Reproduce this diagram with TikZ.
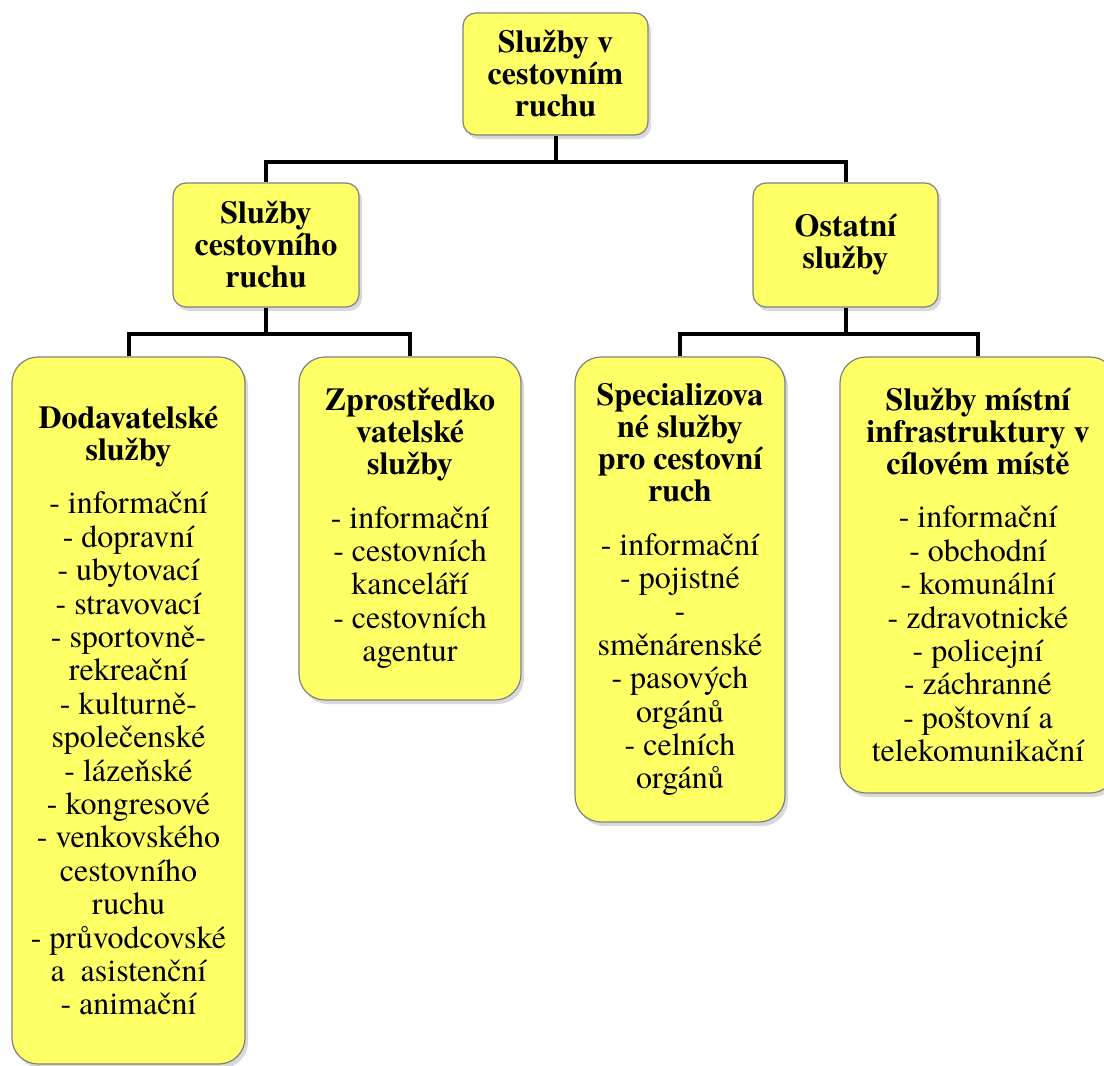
\documentclass[tikz,border=0pt]{standalone}
\usepackage{fontspec}
\setmainfont{texgyretermes}[Extension=.otf, UprightFont=*-regular, BoldFont=*-bold,
	ItalicFont=*-italic, BoldItalicFont=*-bolditalic]
\definecolor{boxyellow}{RGB}{255,255,102}
\definecolor{boxedge}{RGB}{128,128,128}
\usetikzlibrary{shadows}
\newcommand{\headf}{\fontsize{16}{16}\selectfont\bfseries}
\newcommand{\bodyf}{\fontsize{16}{16.7}\selectfont}
\newcommand{\heading}[1]{{\headf\begin{tabular}{@{}c@{}}#1\end{tabular}}}

\begin{document}
\begin{tikzpicture}[x=0.5pt, y=-0.5pt,
		box/.style={draw=boxedge, line width=0.6pt, fill=boxyellow,
			rounded corners=6.5pt, align=center, inner sep=0pt,
			drop shadow={shadow xshift=1.5pt, shadow yshift=-2pt, opacity=0.3},
			font=\headf},
		bigbox/.style={box, rounded corners=13pt, font=\bodyf},
		link/.style={line width=2pt, black}
	]
		\useasboundingbox (0,0) rectangle (1104,1066);

		\node[box, minimum width=92.5pt, minimum height=61pt] (root) at (555.5,74) {Služby v\\ cestovním\\ ruchu};
		\node[box, minimum width=93pt, minimum height=62pt] (tour) at (266,245) {Služby\\ cestovního\\ ruchu};
		\node[box, minimum width=92.5pt, minimum height=62pt] (other) at (845.5,245) {Ostatní\\ služby};

		\node[bigbox, minimum width=116.5pt, minimum height=353.5pt] (supp) at (128.5,710.5)
			{\heading{Dodavatelské\\ služby}\\[10pt] - informační\\ - dopravní\\ - ubytovací\\ - stravovací\\
			- sportovně-\\ rekreační\\ - kulturně-\\ společenské\\ - lázeňské\\ - kongresové\\
			- venkovského\\ cestovního\\ ruchu\\ - průvodcovské\\ a~~asistenční\\ - animační};
		\node[bigbox, minimum width=111pt, minimum height=171.5pt] (agent) at (410,528.5)
			{\heading{Zprostředko\\ vatelské\\ služby}\\[10pt] - informační\\ - cestovních\\ kanceláří\\
			- cestovních\\ agentur};
		\node[bigbox, minimum width=105pt, minimum height=232.5pt] (spec) at (680,589.5)
			{\heading{Specializova\\ né služby\\ pro cestovní\\ ruch}\\[10pt] - informační\\ - pojistné\\ -\\
			směnárenské\\ - pasových\\ orgánů\\ - celních\\ orgánů};
		\node[bigbox, minimum width=138pt, minimum height=218pt] (local) at (978,575)
			{\heading{Služby místní\\ infrastruktury v\\ cílovém místě}\\[10pt] - informační\\ - obchodní\\
			- komunální\\ - zdravotnické\\ - policejní\\ - záchranné\\ - poštovní a\\ telekomunikační};

		\draw[link] (root.south) -- ++(0,26) -| (tour.north);
		\draw[link] (root.south) -- ++(0,26) -| (other.north);
		\draw[link] (tour.south) -- ++(0,26) -| (supp.north);
		\draw[link] (tour.south) -- ++(0,26) -| (agent.north);
		\draw[link] (other.south) -- ++(0,26) -| (spec.north);
		\draw[link] (other.south) -- ++(0,26) -| (local.north);
	\end{tikzpicture}
\end{document}
